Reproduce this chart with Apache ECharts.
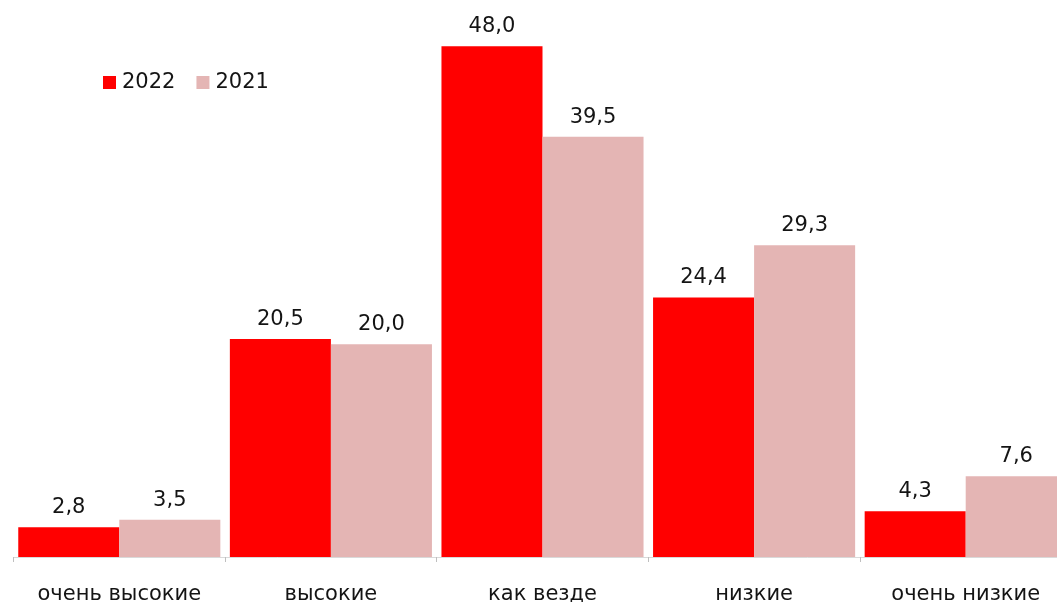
<!DOCTYPE html>
<html><head><meta charset="utf-8">
<script src="https://cdn.jsdelivr.net/npm/echarts@6/dist/echarts.min.js"></script>
<style>html,body{margin:0;padding:0;background:#fff;overflow:hidden;width:1057px;height:602px}#c{width:1072px;height:602px}</style>
</head><body><div id="c"></div>
<script>
const categories = ['очень высокие', 'высокие', 'как везде', 'низкие', 'очень низкие'];
const seriesNames = ['2022', '2021'];
const values2022 = [2.8, 20.5, 48.0, 24.4, 4.3];
const values2021 = [3.5, 20.0, 39.5, 29.3, 7.6];
const colors = ['#ff0000', '#e4b5b4'];
const FONT = 'DejaVu Sans';

const chart = echarts.init(document.getElementById('c'), null, {renderer: 'canvas'});
const lbl = {
  show: true, position: 'top', distance: 9,
  color: '#141414', fontSize: 21, fontFamily: FONT,
  formatter: p => p.value.toFixed(1).replace('.', ',')
};
chart.setOption({
  animation: false,
  backgroundColor: '#fff',
  legend: {
    left: 98, top: 67, itemWidth: 13, itemHeight: 13, itemGap: 21,
    icon: 'rect',
    textStyle: {fontSize: 21, fontFamily: FONT, color: '#141414', padding: [0, 0, 0, 1]},
    data: seriesNames
  },
  grid: {left: 13.5, right: 0.5, top: 25, bottom: 45, containLabel: false, outerBoundsMode: 'none'},
  xAxis: {
    type: 'category', data: categories,
    axisLine: {show: true, lineStyle: {color: '#d9d9d9', width: 1}},
    axisTick: {show: true, length: 5, lineStyle: {color: '#bfbfbf'}},
    axisLabel: {fontSize: 21, fontFamily: FONT, color: '#141414', margin: 27, interval: 0, hideOverlap: false}
  },
  yAxis: {type: 'value', min: 0, max: 50, show: false, splitLine: {show: false}},
  series: [
    {name: seriesNames[0], type: 'bar', data: values2022, itemStyle: {color: colors[0]},
     barCategoryGap: '4.5%', barGap: '0%', label: lbl},
    {name: seriesNames[1], type: 'bar', data: values2021, itemStyle: {color: colors[1]},
     barCategoryGap: '4.5%', barGap: '0%', label: lbl}
  ]
});
</script></body></html>
